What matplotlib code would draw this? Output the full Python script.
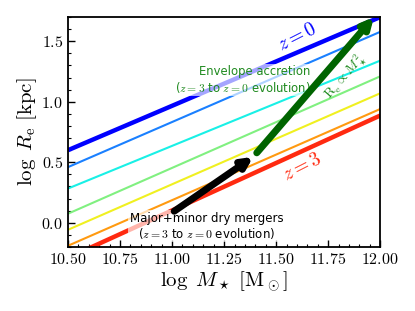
import matplotlib
matplotlib.use("Agg")
import matplotlib.pyplot as plt
import numpy as np
from matplotlib.ticker import FuncFormatter, MultipleLocator

plt.rcParams['mathtext.fontset'] = 'cm'
plt.rcParams['font.family'] = ['DejaVu Sans']

# data: size-mass relations at x = 10.5 and x = 12.0
mass_ends = [10.5, 12.0]
line_left = [0.60, 0.46, 0.283, 0.075, -0.058, -0.19, -0.29]
line_right = [1.70, 1.578, 1.34, 1.21, 1.07, 0.94, 0.886]
line_colors = ['#0000ff', '#1a80ff', '#19f0e6', '#80f080', '#f0f020', '#ff9a10', '#ff2a10']
line_widths = [3.2, 1.5, 1.5, 1.5, 1.5, 1.5, 3.2]

merger_arrow = [(11.01, 0.095), (11.39, 0.545)]
envelope_arrow = [(11.407, 0.578), (11.97, 1.70)]

fig = plt.figure(figsize=(4.15, 3.11), dpi=100)
ax = fig.add_axes([0.164, 0.206, 0.752, 0.739])

for l, r, c, w in zip(line_left, line_right, line_colors, line_widths):
    ax.plot(mass_ends, [l, r], color=c, lw=w, solid_capstyle='butt', zorder=2)

# arrows
(x0, y0), (x1, y1) = merger_arrow
ax.annotate('', xy=(x1, y1), xytext=(x0, y0),
            arrowprops=dict(arrowstyle='-|>,head_length=0.6,head_width=0.3', color='black', lw=5,
                            shrinkA=0, shrinkB=0), zorder=5)
(x0, y0), (x1, y1) = envelope_arrow
ax.annotate('', xy=(x1, y1), xytext=(x0, y0),
            arrowprops=dict(arrowstyle='-|>,head_length=0.6,head_width=0.3', color='#006400', lw=5,
                            shrinkA=0, shrinkB=0), zorder=5)

box = dict(facecolor='white', edgecolor='none', alpha=0.65, pad=1.0)
ax.text(11.665, 1.18, 'Envelope accretion\n($z=3$ to $z=0$ evolution)', color='#1f8a1f',
        fontsize=8.4, ha='right', va='center', multialignment='right', linespacing=1.1,
        bbox=box, zorder=3)
ax.text(11.165, -0.028, 'Major+minor dry mergers\n($z=3$ to $z=0$ evolution)', color='black',
        fontsize=8.5, ha='center', va='center', multialignment='center', linespacing=1.1,
        bbox=box, zorder=3)

ax.text(11.60, 1.54, r'$z=0$', color='#0000ff', fontsize=14, rotation=27,
        ha='center', va='center', zorder=4)
ax.text(11.625, 0.46, r'$z=3$', color='#ff2a10', fontsize=14, rotation=27,
        ha='center', va='center', zorder=4)
ax.text(11.83, 1.21, r'$\mathrm{R_e}\propto M_\star^2$', color='#1f8a1f', fontsize=10, rotation=49,
        ha='center', va='center', zorder=4)

ax.set_xlim(10.5, 12.0)
ax.set_ylim(-0.2, 1.7)
ax.xaxis.set_major_locator(MultipleLocator(0.25))
ax.xaxis.set_minor_locator(MultipleLocator(0.05))
ax.yaxis.set_major_locator(MultipleLocator(0.5))
ax.yaxis.set_minor_locator(MultipleLocator(0.1))
ax.xaxis.set_major_formatter(FuncFormatter(lambda v, p: r'$%.2f$' % v))
ax.yaxis.set_major_formatter(FuncFormatter(lambda v, p: r'$%.1f$' % v))
ax.tick_params(which='both', direction='in', labelsize=11.5)
ax.tick_params(which='major', length=5, width=1)
ax.tick_params(which='minor', length=2.5, width=0.8)
for s in ax.spines.values():
    s.set_linewidth(1.3)

ax.set_xlabel(r'$\log\ M_\star\ [\mathrm{M_\odot}]$', fontsize=15, labelpad=2)
ax.set_ylabel(r'$\log\ R_\mathrm{e}\ [\mathrm{kpc}]$', fontsize=15, labelpad=2)

fig.savefig('out.png', dpi=100)
